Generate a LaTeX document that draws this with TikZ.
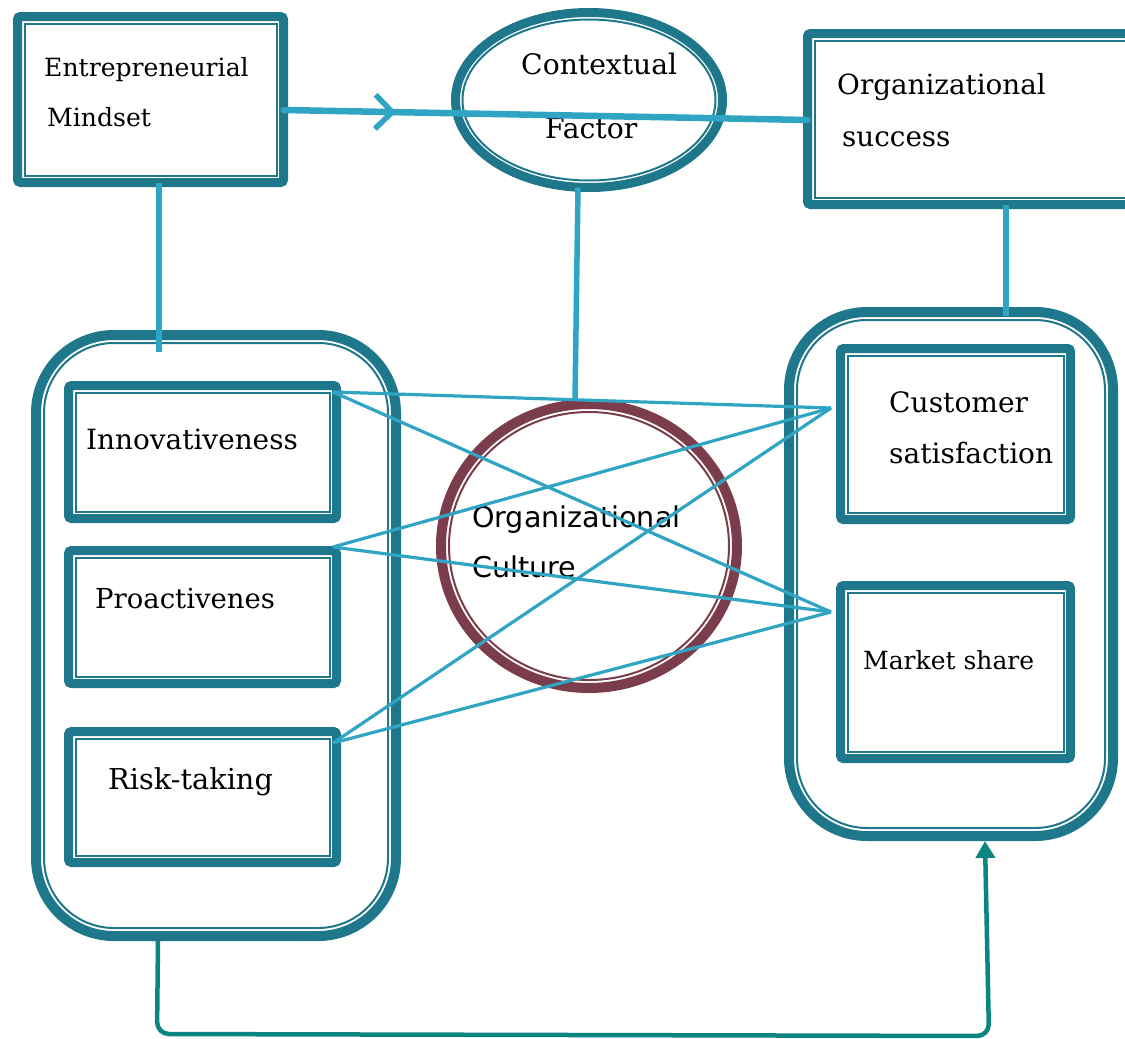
\documentclass[tikz,border=0pt]{standalone}
\usepackage{fontspec}
\setmainfont{DejaVu Serif}
\newfontfamily\culturefont{DejaVu Sans}
\usetikzlibrary{arrows.meta,decorations.markings,shapes.geometric,calc}

\definecolor{frameteal}{HTML}{1F778B}
\definecolor{linkblue}{HTML}{2FA4C3}
\definecolor{cultmaroon}{HTML}{7B3C4B}
\definecolor{flowteal}{HTML}{0B8580}

% thin inner rule of a thick-thin frame, inset from the node border
\newcommand{\innerrule}[4][0pt]{%
  \draw[#4, rounded corners=#1] ([shift={(#3,-#3)}]#2.north west) rectangle ([shift={(-#3,#3)}]#2.south east);}

\tikzset{
  panel/.style={draw=frameteal, line width=9pt, rectangle, rounded corners=3pt,
    outer sep=0pt, inner sep=0pt, fill=white},
  container/.style={draw=frameteal, line width=10pt, rectangle, rounded corners=78pt,
    outer sep=0pt, inner sep=0pt, fill=white},
  ring/.style={draw=frameteal, line width=9pt, ellipse, outer sep=0pt, inner sep=0pt, fill=white},
  culturering/.style={draw=cultmaroon, line width=10pt, ellipse, outer sep=0pt, inner sep=0pt, fill=white},
  thinrule/.style={draw=frameteal, line width=2pt},
  thinmaroon/.style={draw=cultmaroon, line width=2pt},
  lbl/.style={anchor=base west, inner sep=0pt, text=black},
  link/.style={draw=linkblue, line width=3.2pt},
  mainlink/.style={draw=linkblue, line width=6.5pt},
  drop/.style={draw=linkblue, line width=5.5pt},
  flow/.style={draw=flowteal, line width=4.5pt, rounded corners=12pt},
}

\begin{document}
\begin{tikzpicture}[x=1pt, y=-1pt]
\clip (0,0) rectangle (1125,1039);
\fill[white] (0,0) rectangle (1125,1039);

% containers
\node[container, minimum width=360pt, minimum height=601pt] (lc) at (216,635.5) {};
\innerrule[70pt]{lc}{8pt}{thinrule}
\node[container, minimum width=324pt, minimum height=524pt] (rc) at (951,574) {};
\innerrule[70pt]{rc}{8pt}{thinrule}

% top row
\node[panel, minimum width=266pt, minimum height=166pt] (em) at (150.5,99.5) {};
\innerrule{em}{7pt}{thinrule}
\node[panel, minimum width=332pt, minimum height=171pt] (os) at (973.5,119) {};
\innerrule{os}{7pt}{thinrule}
\node[ring, minimum width=267pt, minimum height=175pt] (cf) at (589,100) {};
\draw[thinrule] (cf.center) ellipse [x radius=126.5pt, y radius=80.5pt];

% dimension boxes
\node[panel, minimum width=268pt, minimum height=133pt] (inn) at (202.5,452) {};
\innerrule{inn}{7pt}{thinrule}
\node[panel, minimum width=268pt, minimum height=133pt] (pro) at (202.5,617) {};
\innerrule{pro}{7pt}{thinrule}
\node[panel, minimum width=268pt, minimum height=131pt] (risk) at (202.5,797) {};
\innerrule{risk}{7pt}{thinrule}
\node[panel, minimum width=230pt, minimum height=171pt] (cs) at (955.5,434) {};
\innerrule{cs}{7pt}{thinrule}
\node[panel, minimum width=230pt, minimum height=173pt] (ms) at (955.5,672) {};
\innerrule{ms}{7pt}{thinrule}

% organizational culture
\node[culturering, minimum width=296pt, minimum height=284pt] (oc) at (589,546) {};
\draw[thinmaroon] (oc.center) ellipse [x radius=140pt, y radius=134pt];

% labels
\node[lbl, font=\fontsize{25.1}{30}\selectfont] (t1) at (44,76) {Entrepreneurial};
\node[lbl, font=\fontsize{25.1}{30}\selectfont] (t2) at (47,126) {Mindset};
\node[lbl, font=\fontsize{28.2}{33}\selectfont] (t3) at (521,74) {Contextual};
\node[lbl, font=\fontsize{28.2}{33}\selectfont] (t4) at (545,138) {Factor};
\node[lbl, font=\fontsize{27.8}{33}\selectfont] (t5) at (837,94) {Organizational};
\node[lbl, font=\fontsize{27.8}{33}\selectfont] (t6) at (842,146) {success};
\node[lbl, font=\fontsize{27.9}{33}\selectfont] (t7) at (86,449) {Innovativeness};
\node[lbl, font=\fontsize{27.5}{33}\selectfont] (t8) at (95,608) {Proactivenes};
\node[lbl, font=\fontsize{28.8}{33}\selectfont] (t9) at (108,789) {Risk-taking};
\node[lbl, font=\fontsize{28.1}{33}\selectfont] (t10) at (889,412) {Customer};
\node[lbl, font=\fontsize{28.1}{33}\selectfont] (t11) at (889,463) {satisfaction};
\node[lbl, font=\fontsize{25}{30}\selectfont] (t12) at (863,669) {Market share};
\node[lbl, font=\culturefont\fontsize{28.6}{33}\selectfont] (t13) at (472,527) {Organizational};
\node[lbl, font=\culturefont\fontsize{28.6}{33}\selectfont] (t14) at (472,577) {Culture};

% link ends
\coordinate (innR) at (333,392);
\coordinate (proR) at (333,547);
\coordinate (riskR) at (333,743);
\coordinate (csL) at (831,408);
\coordinate (msL) at (831,612);
\coordinate (emDrop) at (159,352);
\coordinate (osDrop) at (1006,316);

% main arrow through the contextual factor
\draw[mainlink, line cap=round,
  decoration={markings, mark=at position 0.215 with {\arrow[line width=5.5pt, line cap=round]{Straight Barb[length=17pt, width=34pt]}}},
  postaction={decorate}]
  ([yshift=-10.5pt]em.east) -- ([yshift=-1pt]os.west);

% vertical drops
\draw[drop] (emDrop |- em.south) -- (emDrop);
\draw[drop] ([xshift=-11pt]cf.south) -- ([xshift=-14pt,yshift=4pt]oc.north);
\draw[drop] (osDrop |- os.south) -- (osDrop);

% dimension-to-outcome links
\draw[link] (innR) -- (csL);
\draw[link] (innR) -- (msL);
\draw[link] (proR) -- (csL);
\draw[link] (proR) -- (msL);
\draw[link] (riskR) -- (csL);
\draw[link] (riskR) -- (msL);

% feedback loop along the bottom
\draw[flow, -{Triangle[length=17pt, width=19pt]}]
  ([xshift=-58pt,yshift=-5pt]lc.south) -- (157,1034) -- (989,1036) -- ([xshift=34pt,yshift=-5pt]rc.south);
\end{tikzpicture}
\end{document}
